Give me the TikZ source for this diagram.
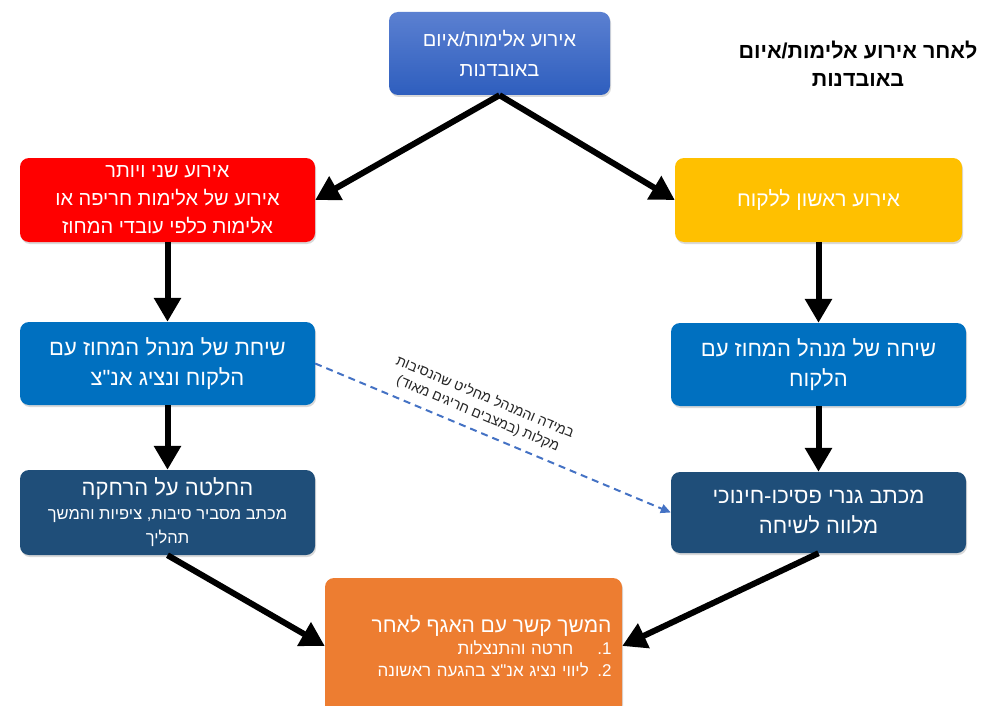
\documentclass[tikz,border=0pt]{standalone}
\usepackage{fontspec}
\newfontfamily\hebfont[Script=Hebrew]{Liberation Sans}
\TeXXeTstate=1
\usetikzlibrary{arrows.meta,shadows}
\definecolor{evtop}{HTML}{5B80D1}
\definecolor{evbottom}{HTML}{2E5EBE}
\definecolor{alarmred}{HTML}{FF0000}
\definecolor{firstyellow}{HTML}{FFC000}
\definecolor{talkblue}{HTML}{0070C0}
\definecolor{letterblue}{HTML}{1F4E79}
\definecolor{followorange}{HTML}{ED7D31}
\definecolor{dashblue}{HTML}{4472C4}
\newcommand\heb[1]{\beginR#1\endR}

\begin{document}
\begin{tikzpicture}[
  x=1pt, y=-1pt,
  font=\hebfont\fontsize{22}{30}\selectfont,
  stage/.style={rounded corners=9pt, text=white, align=center,
    minimum width=295pt, minimum height=84pt, inner sep=2pt,
    drop shadow={opacity=0.3, shadow xshift=1pt, shadow yshift=-2pt}},
  flow/.style={line width=6pt, -{Triangle[length=24pt,width=26pt]}},
  maybe/.style={line width=2pt, dashblue, dash pattern=on 7pt off 5pt,
    -{Triangle[length=10pt,width=9pt]}},
]
  \useasboundingbox (0,0) rectangle (982,706);

  \node[stage, top color=evtop, bottom color=evbottom, font=\hebfont\fontsize{20}{30}\selectfont,
    minimum width=221pt, minimum height=83pt] (event) at (499.5,53.5)
    {\heb{אירוע אלימות/איום}\\\heb{באובדנות}};
  \node[font=\hebfont\bfseries\fontsize{21.5}{28}\selectfont, align=center] (title) at (858,64)
    {\heb{לאחר אירוע אלימות/איום}\\\heb{באובדנות}};

  \node[stage, fill=alarmred, font=\hebfont\fontsize{20}{28}\selectfont] (repeat) at (167.5,200)
    {\heb{אירוע שני ויותר}\\\heb{אירוע של אלימות חריפה או}\\\heb{אלימות כלפי עובדי המחוז}};
  \node[stage, fill=firstyellow, minimum width=287pt, font=\hebfont\fontsize{21}{30}\selectfont] (first) at (818.5,200)
    {\heb{אירוע ראשון ללקוח}};

  \node[stage, fill=talkblue, minimum height=83pt] (talkL) at (167.5,363.5)
    {\heb{שיחת של מנהל המחוז עם}\\\heb{הלקוח ונציג אנ"צ}};
  \node[stage, fill=talkblue, minimum height=83pt] (talkR) at (818.5,364.5)
    {\heb{שיחה של מנהל המחוז עם}\\\heb{הלקוח}};

  \node[stage, fill=letterblue, minimum height=85pt] (letterL) at (167.5,512.5)
    {\heb{החלטה על הרחקה}\\[-6pt]
     \fontsize{16.5}{22}\selectfont\heb{מכתב מסביר סיבות, ציפיות והמשך}\\[-6pt]
     \fontsize{16.5}{22}\selectfont\heb{תהליך}};
  \node[stage, fill=letterblue, minimum height=81pt] (letterR) at (818.5,512.5)
    {\heb{מכתב גנרי פסיכו-חינוכי}\\\heb{מלווה לשיחה}};

  \node[stage, fill=followorange, minimum width=297pt, minimum height=136pt,
    text width=276pt, align=right, font=\hebfont\fontsize{17}{22}\selectfont] (follow) at (473.5,646)
    {{\fontsize{21}{23}\selectfont\heb{המשך קשר עם האגף לאחר}}\hspace*{22pt}\\
     \heb{\beginL1.\endL\hspace{24pt}חרטה והתנצלות}\\
     \heb{\beginL2.\endL{} ליווי נציג אנ"צ בהגעה ראשונה}};

  \draw[flow] (event.south) -- (repeat.east);
  \draw[flow] (event.south) -- (first.west);
  \draw[flow] (repeat.south) -- (talkL.north);
  \draw[flow] (talkL.south) -- (letterL.north);
  \draw[flow] (first.south) -- (talkR.north);
  \draw[flow] (talkR.south) -- (letterR.north);
  \draw[flow] (letterL.south) -- (follow.west);
  \draw[flow] (letterR.south) -- (follow.east);
  \draw[maybe] (talkL.east) -- node[pos=0.44, sloped, above=5pt, text=black!85,
    font=\hebfont\fontsize{14}{18}\selectfont, align=center] (exception)
    {\heb{במידה והמנהל מחליט שהנסיבות}\\\heb{מקלות (במצבים חריגים מאוד)}} (letterR.west);
\end{tikzpicture}
\end{document}
